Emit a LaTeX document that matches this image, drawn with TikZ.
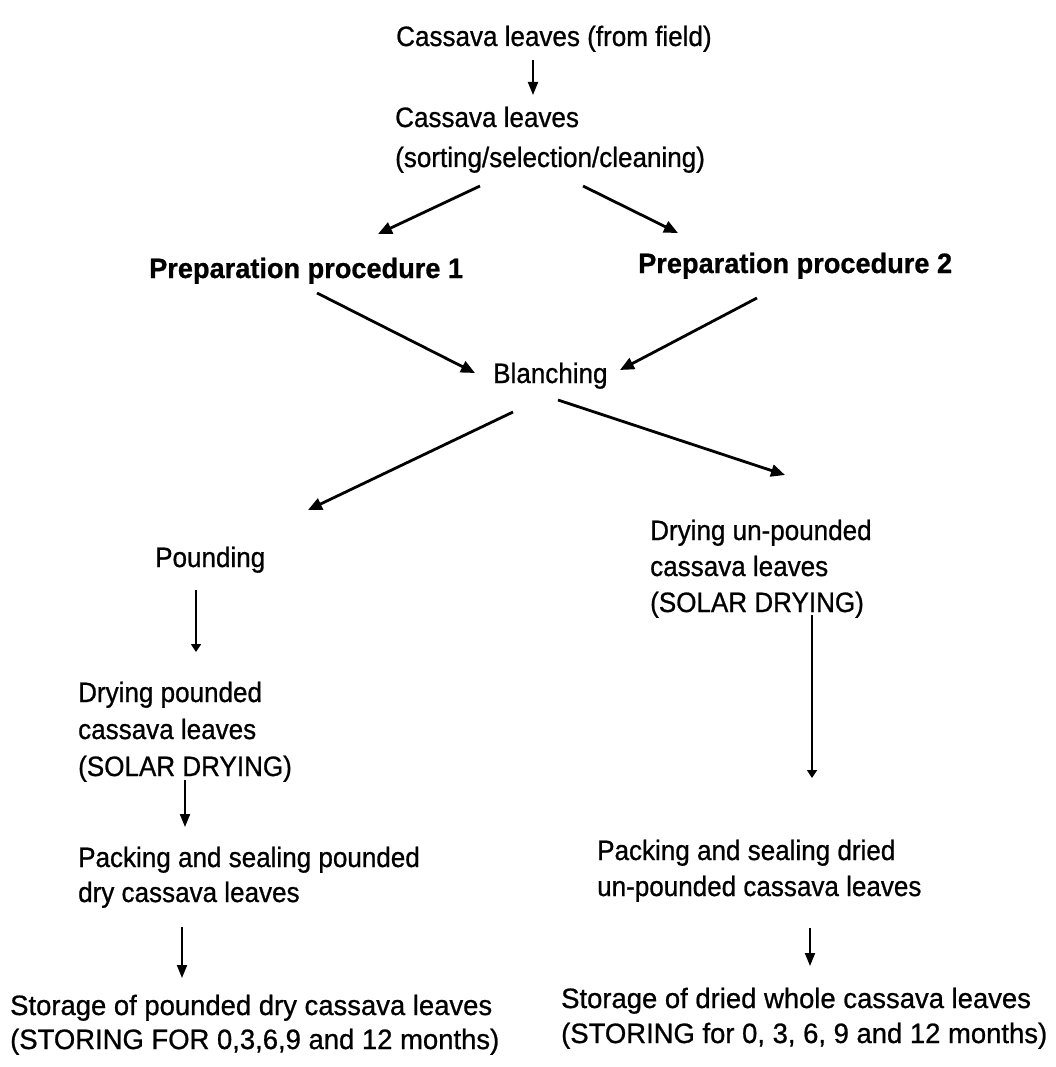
\documentclass[tikz,border=0pt]{standalone}
\usepackage{fontspec}
\setmainfont[FakeStretch=0.93,FakeBold=0.8]{Liberation Sans}
\newfontfamily\widefont[FakeStretch=0.98,FakeBold=0.8]{Liberation Sans}
\newfontfamily\pboldfont[FakeStretch=0.97,FakeBold=0.8]{Liberation Sans}
\usetikzlibrary{arrows.meta,calc}
\begin{document}
\begin{tikzpicture}[x=1pt,y=-1pt,
  txt/.style={inner sep=0pt,anchor=base west,align=left,font=\fontsize{28}{36}\selectfont},
  boldtxt/.style={inner sep=0pt,anchor=base west,font=\fontsize{28}{36}\selectfont\pboldfont\bfseries},
  arrbig/.style={line width=2.8pt,-{Triangle[length=14pt,width=12pt]}},
  arrthin/.style={line width=1.9pt,-{Triangle[length=13pt,width=10pt]}},
  arrtiny/.style={line width=1.7pt,-{Triangle[length=8pt,width=10pt]}}]
\useasboundingbox (0,0) rectangle (1056,1067);
% nodes (multi-line nodes are placed by the baseline of their last line)
\node[txt] (n1) at (396,46) {Cassava leaves (from field)};
\node[txt,font=\fontsize{28}{40}\selectfont] (n2) at (395,167) {Cassava leaves\\(sorting/selection/cleaning)};
\node[boldtxt] (p1) at (149,278) {Preparation procedure 1};
\node[boldtxt] (p2) at (638,273) {Preparation procedure 2};
\node[txt] (bl) at (493,383) {Blanching};
\node[txt] (pd) at (155,567) {Pounding};
\node[txt] (du) at (650,612) {Drying un-pounded\\cassava leaves\\(SOLAR DRYING)};
\node[txt,font=\fontsize{28}{37}\selectfont] (dp) at (78,776) {Drying pounded\\cassava leaves\\(SOLAR DRYING)};
\node[txt,font=\fontsize{28}{35}\selectfont] (kp) at (78,902) {Packing and sealing pounded\\dry cassava leaves};
\node[txt] (kd) at (597,896) {Packing and sealing dried\\un-pounded cassava leaves};
\node[txt,font=\fontsize{28}{34}\selectfont\widefont] (sp) at (10,1049) {Storage of pounded dry cassava leaves\\(STORING FOR 0,3,6,9 and 12 months)};
\node[txt,font=\fontsize{28}{35}\selectfont\widefont] (sd) at (561,1043) {Storage of dried whole cassava leaves\\(STORING for 0, 3, 6, 9 and 12 months)};
% connectors
\draw[arrthin] ($(n1.base west)+(137,14)$) -- ($(n2.base west)+(138,-72)$);
\draw[arrbig] ($(n2.base west)+(85,19)$) -- ($(p1.base west)+(229,-44)$);
\draw[arrbig] ($(n2.base west)+(188,19)$) -- ($(p2.base west)+(40,-40)$);
\draw[arrbig] ($(p1.base west)+(168,15)$) -- ($(bl.base west)+(-18,-10)$);
\draw[arrbig] ($(p2.base west)+(119,25)$) -- ($(bl.base west)+(127,-13)$);
\draw[arrbig] ($(bl.base west)+(20,29)$) -- ($(pd.base west)+(153,-57)$);
\draw[arrbig] ($(bl.base west)+(65,17)$) -- ($(du.base west)+(135,-137)$);
\draw[arrtiny] ($(pd.base west)+(41,23)$) -- ($(dp.base west)+(118,-124)$);
\draw[arrtiny] ($(du.base west)+(162,3)$) -- ($(kd.base west)+(215,-118)$);
\draw[arrthin] ($(dp.base west)+(107,4)$) -- ($(kp.base west)+(107,-75)$);
\draw[arrthin] ($(kp.base west)+(104,25)$) -- ($(sp.base west)+(172,-71)$);
\draw[arrthin] ($(kd.base west)+(213,32)$) -- ($(sd.base west)+(249,-77)$);
\end{tikzpicture}
\end{document}
